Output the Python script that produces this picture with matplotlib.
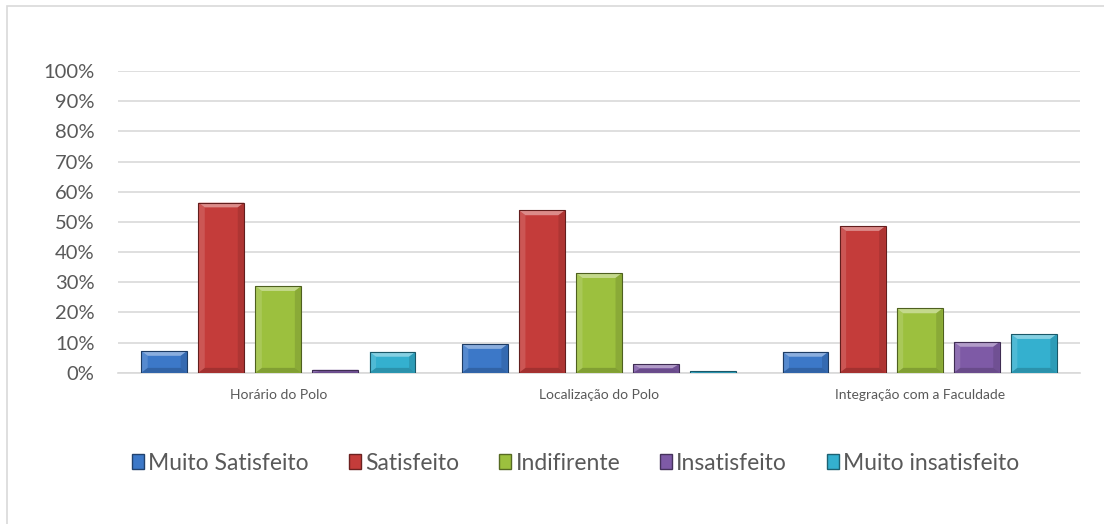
import matplotlib
matplotlib.use("Agg")
import matplotlib.pyplot as plt
import numpy as np
from matplotlib.patches import Polygon, Rectangle
from matplotlib.ticker import PercentFormatter
import matplotlib.colors as mcolors

categories = ["Horário do Polo", "Localização do Polo", "Integração com a Faculdade"]
series_names = ["Muito Satisfeito", "Satisfeito", "Indifirente", "Insatisfeito", "Muito insatisfeito"]
muito_satisfeito = [7.2, 9.5, 6.9]
satisfeito = [56.4, 53.8, 48.6]
indifirente = [28.7, 33.0, 21.3]
insatisfeito = [1.0, 2.8, 10.2]
muito_insatisfeito = [6.9, 0.5, 12.8]
y_ticks = [0, 10, 20, 30, 40, 50, 60, 70, 80, 90, 100]

series = [muito_satisfeito, satisfeito, indifirente, insatisfeito, muito_insatisfeito]
colors = ["#3C78C8", "#C43C3A", "#9CC03E", "#7E5AA6", "#34B0CF"]

plt.rcParams['font.family'] = ['Lato', 'DejaVu Sans']
fig = plt.figure(figsize=(11.04, 5.24), dpi=100)
ax = fig.add_axes([118/1104, 1-372.7/524, (1080-118)/1104, (372.7-71)/524])

x = np.arange(len(categories))
bw = 0.143
step = 0.178
for i, (vals, c) in enumerate(zip(series, colors)):
    off = (i - 2) * step
    bars = ax.bar(x + off, vals, width=bw, color=c, edgecolor='none',
                  linewidth=0, zorder=3, label=series_names[i])
    light = tuple(min(1, v*0.55 + 0.45) for v in mcolors.to_rgb(c))
    dark = tuple(v*0.72 for v in mcolors.to_rgb(c))
    for b in bars:
        x0, w, h = b.get_x(), b.get_width(), b.get_height()
        if h <= 0:
            continue
        bx = w * 0.14
        by = min(1.6, h / 2.2)
        top = h
        ax.add_patch(Polygon([(x0, top), (x0 + w, top), (x0 + w - bx, top - by), (x0 + bx, top - by)],
                             closed=True, facecolor=light, edgecolor='none', zorder=4, alpha=0.9))
        ax.add_patch(Polygon([(x0, 0), (x0 + w, 0), (x0 + w - bx, by), (x0 + bx, by)],
                             closed=True, facecolor=dark, edgecolor='none', zorder=4, alpha=0.6))
        ax.add_patch(Polygon([(x0, 0), (x0 + bx, by), (x0 + bx, top - by), (x0, top)],
                             closed=True, facecolor=light, edgecolor='none', zorder=4, alpha=0.3))
        ax.add_patch(Polygon([(x0 + w, 0), (x0 + w - bx, by), (x0 + w - bx, top - by), (x0 + w, top)],
                             closed=True, facecolor=dark, edgecolor='none', zorder=4, alpha=0.4))
        ax.add_patch(Rectangle((x0, 0), w, h, facecolor='none',
                               edgecolor=mcolors.to_hex(np.array(mcolors.to_rgb(c))*0.5), linewidth=0.8, zorder=5))

ax.set_xlim(-0.5, len(categories) - 0.5)
ax.set_ylim(0, 100)
ax.set_yticks(y_ticks)
ax.yaxis.set_major_formatter(PercentFormatter(decimals=0))
ax.set_xticks(x)
ax.set_xticklabels(categories, fontsize=10, color="#595959")
ax.tick_params(axis='y', labelsize=14.5, colors="#595959", length=0, pad=17)
ax.tick_params(axis='x', length=0, pad=12)
ax.grid(axis='y', color="#D9D9D9", linewidth=1.2, zorder=0)
for s in ["top", "right", "left"]:
    ax.spines[s].set_visible(False)
ax.spines["bottom"].set_color("#D9D9D9")
ax.spines["bottom"].set_linewidth(1.2)

handles = [Rectangle((0, 0), 1, 1, facecolor=c, edgecolor=mcolors.to_hex(np.array(mcolors.to_rgb(c))*0.55)) for c in colors]
fig.legend(handles, series_names, loc='center', bbox_to_anchor=(576/1104, 1-463/524), ncol=5,
           frameon=False, fontsize=16.5, handlelength=0.5, handleheight=0.6, handletextpad=0.2,
           columnspacing=1.75, labelcolor="#595959")

fig.add_artist(Rectangle((7/1104, -0.05), 1.2, 1 - 5.5/524 + 0.05, transform=fig.transFigure,
                         facecolor='none', edgecolor="#D9D9D9", linewidth=1.2))

fig.savefig("out.png", dpi=100)
